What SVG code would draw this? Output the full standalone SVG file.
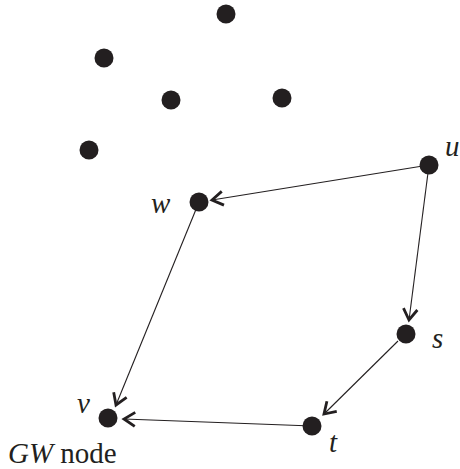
<svg xmlns="http://www.w3.org/2000/svg" width="460" height="469" viewBox="0 0 460 469">
<style>
.n{fill:#231f20}
.e{stroke:#231f20;stroke-width:1.1;fill:none;marker-end:url(#a)}
text{font-size:29px;fill:#231f20}
.i{font-style:italic}
</style>
<defs>
<marker id="a" markerUnits="userSpaceOnUse" markerWidth="20" markerHeight="20" viewBox="-12 -10 14 20" refX="0" refY="0" orient="auto" overflow="visible">
<path d="M-11,-7 L0,0 L-11,7" fill="none" stroke="#231f20" stroke-width="2.8"/>
</marker>
</defs>
<g id="connectors">
<line class="e" x1="429" y1="165" x2="212" y2="200"/>
<line class="e" x1="429" y1="165" x2="409" y2="320"/>
<line class="e" x1="199" y1="202" x2="116" y2="405"/>
<line class="e" x1="398" y1="341" x2="324" y2="414"/>
<line class="e" x1="312" y1="426" x2="124" y2="419"/>
</g>
<g id="n1"><circle class="n" cx="226" cy="14" r="9.5"/></g>
<g id="n2"><circle class="n" cx="104" cy="58" r="9.5"/></g>
<g id="n3"><circle class="n" cx="171" cy="100" r="9.5"/></g>
<g id="n4"><circle class="n" cx="282" cy="98" r="9.5"/></g>
<g id="n5"><circle class="n" cx="89" cy="150" r="9.5"/></g>
<g id="u" font-family="Liberation Serif, serif"><circle class="n" cx="429" cy="165" r="9.5"/><text class="i" x="445" y="156">u</text></g>
<g id="w" font-family="Liberation Serif, serif"><circle class="n" cx="199" cy="202" r="9.5"/><text class="i" x="151" y="213">w</text></g>
<g id="s" font-family="Liberation Serif, serif"><circle class="n" cx="406" cy="334" r="9.5"/><text class="i" x="432" y="348">s</text></g>
<g id="t" font-family="Liberation Serif, serif"><circle class="n" cx="312" cy="426" r="9.5"/><text class="i" x="329" y="452">t</text></g>
<g id="v" font-family="Liberation Serif, serif"><circle class="n" cx="108" cy="418" r="9.5"/><text class="i" x="77" y="413">v</text><text x="8" y="463" font-size="30"><tspan class="i">GW</tspan> node</text></g>
</svg>
